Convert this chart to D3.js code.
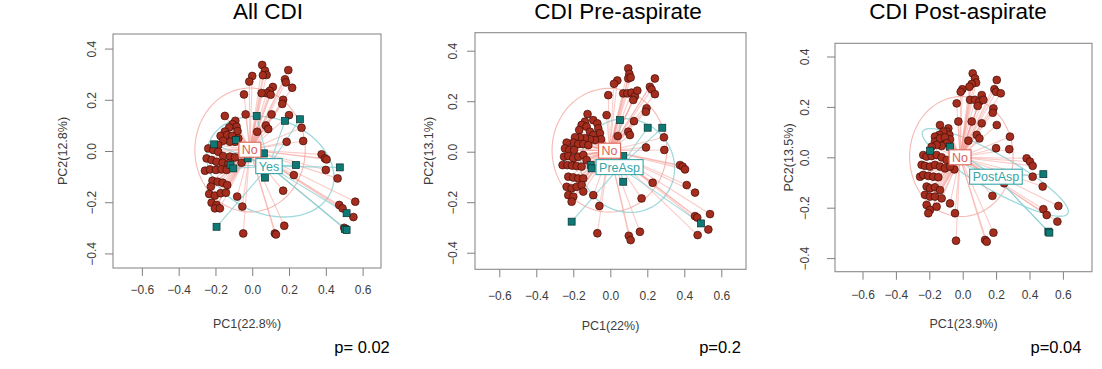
<!DOCTYPE html>
<html>
<head>
<meta charset="utf-8">
<script src="https://d3js.org/d3.v7.min.js"></script>
<style>
  body { margin: 0; background: #fff; }
  svg { display: block; font-family: "Liberation Sans", Arial, sans-serif; }
</style>
</head>
<body>
<svg width="1102" height="369"></svg>
<script>
// ---- data ----
const titles = ["All CDI", "CDI Pre-aspirate", "CDI Post-aspirate"];
const pValues = ["p= 0.02", "p=0.2", "p=0.04"];
const xTitles = ["PC1(22.8%)", "PC1(22%)", "PC1(23.9%)"];
const yTitles = ["PC2(12.8%)", "PC2(13.1%)", "PC2(13.5%)"];
const groupNames = [["No", "Yes"], ["No", "PreAsp"], ["No", "PostAsp"]];
const xTicks = [-0.6, -0.4, -0.2, 0, 0.2, 0.4, 0.6];
const yTicks = [-0.4, -0.2, 0, 0.2, 0.4];

// panel 1: All CDI
const noAll = [
  [0.054,0.336],[0.069,0.314],[0.078,0.297],[0.058,0.296],[0.196,0.316],[0.178,0.280],[0.183,0.268],[0.217,0.247],
  [0.000,0.293],[-0.016,0.271],[0.112,0.250],[0.095,0.235],[0.078,0.226],[0.051,0.226],[0.100,0.220],
  [0.168,0.200],[0.163,0.184],[-0.045,0.221],[-0.036,0.143],[0.105,0.143],[0.200,0.140],[0.074,0.100],[0.087,0.086],
  [0.027,0.075],[0.268,0.091],[0.187,0.036],[0.277,0.039],[0.377,-0.013],[0.395,-0.029],[0.404,-0.033],
  [0.400,-0.074],[0.464,-0.107],[0.226,-0.094],[0.168,-0.155],[0.473,-0.211],[0.491,-0.224],[0.560,-0.198],
  [0.550,-0.258],[0.500,-0.300],[0.174,-0.292],[0.123,-0.322],[0.129,-0.326],[-0.049,-0.322],[-0.054,-0.217],
  [-0.082,-0.178],[-0.058,-0.046],
  [-0.149,0.137],[-0.092,0.118],[-0.107,0.105],[-0.085,0.095],[-0.080,0.078],[-0.125,0.092],[-0.149,0.076],
  [-0.172,0.059],[-0.136,0.063],[-0.109,0.059],[-0.076,0.049],[-0.094,0.036],[-0.121,0.036],[-0.158,0.040],
  [-0.185,0.023],[-0.239,0.010],[-0.212,0.004],[-0.185,-0.003],[-0.158,-0.020],[-0.121,-0.022],[-0.094,-0.025],
  [-0.248,-0.029],[-0.221,-0.035],[-0.194,-0.042],[-0.161,-0.046],[-0.130,-0.048],[-0.257,-0.077],[-0.230,-0.072],
  [-0.197,-0.074],[-0.167,-0.072],[-0.139,-0.074],[-0.216,-0.116],[-0.188,-0.120],[-0.161,-0.124],[-0.136,-0.133],
  [-0.225,-0.139],[-0.234,-0.168],[-0.203,-0.174],[-0.172,-0.165],[-0.143,-0.163],[-0.221,-0.202],[-0.194,-0.211],
  [-0.203,-0.224],[-0.176,-0.224]
];
const yesAll = [
  [0.024,0.137],[0.178,0.118],[0.259,0.124],[-0.207,0.026],[0.063,-0.009],[-0.025,-0.029],[-0.118,-0.055],
  [-0.103,-0.068],[0.237,-0.055],[0.476,-0.064],[0.069,-0.104],[0.513,-0.243],[0.504,-0.305],[0.513,-0.309],
  [-0.194,-0.296],[-0.089,0.043]
];

// panel 2: CDI Pre-aspirate
const noPre = [
  [0.097,0.330],[0.103,0.308],[0.097,0.290],[0.110,0.294],[0.038,0.282],[0.020,0.269],[0.241,0.290],[0.214,0.257],
  [0.223,0.247],[0.241,0.228],[-0.011,0.224],[0.070,0.231],[0.092,0.231],[0.115,0.234],[0.133,0.220],[0.146,0.242],
  [0.124,0.205],[0.196,0.172],[0.192,0.158],[-0.020,0.145],[0.128,0.121],[0.097,0.079],[0.106,0.066],[0.040,0.062],
  [0.290,0.057],[0.193,0.017],[0.292,0.007],[0.377,-0.053],[0.391,-0.059],[0.404,-0.070],[0.413,-0.132],
  [0.458,-0.162],[0.229,-0.123],[0.169,-0.185],[0.539,-0.247],[0.458,-0.255],[0.470,-0.261],[0.530,-0.308],
  [0.472,-0.330],[0.160,-0.317],[0.100,-0.333],[0.110,-0.350],[-0.070,-0.323],[-0.059,-0.215],[-0.092,-0.172],
  [-0.123,0.149],[-0.092,0.125],[-0.070,0.112],[-0.065,0.092],[-0.056,0.073],[-0.050,0.049],[-0.137,0.119],
  [-0.155,0.106],[-0.168,0.086],[-0.128,0.099],[-0.110,0.079],[-0.092,0.066],[-0.083,0.046],[-0.110,0.049],
  [-0.137,0.053],[-0.164,0.057],[-0.191,0.057],[-0.200,0.036],[-0.173,0.030],[-0.146,0.030],[-0.119,0.026],
  [-0.236,0.036],[-0.245,0.013],[-0.222,0.007],[-0.196,0.007],[-0.250,-0.020],[-0.227,-0.017],[-0.200,-0.026],
  [-0.173,-0.020],[-0.146,-0.013],[-0.128,-0.033],[-0.258,-0.053],[-0.232,-0.053],[-0.207,-0.055],[-0.182,-0.057],
  [-0.155,-0.059],[-0.227,-0.099],[-0.200,-0.102],[-0.173,-0.106],[-0.146,-0.106],[-0.236,-0.139],[-0.209,-0.145],
  [-0.182,-0.139],[-0.155,-0.132],[-0.227,-0.172],[-0.200,-0.178],[-0.209,-0.198],[-0.146,-0.158]
];
const preAsp = [
  [0.052,0.125],[0.202,0.095],[0.281,0.095],[0.070,-0.017],[-0.106,-0.053],[-0.101,-0.066],[0.070,-0.119],
  [0.490,-0.284],[-0.209,-0.277]
];

// panel 3: CDI Post-aspirate
const noPost = [
  [0.060,0.333],[0.074,0.313],[0.080,0.296],[0.054,0.291],[0.040,0.280],[-0.002,0.270],[-0.012,0.260],[0.204,0.307],
  [0.190,0.270],[0.200,0.260],[0.228,0.254],[0.044,0.228],[0.074,0.228],[0.100,0.221],[0.114,0.247],[0.124,0.228],
  [0.090,0.204],[-0.036,0.214],[0.184,0.194],[0.180,0.177],[-0.026,0.142],[0.054,0.142],[0.114,0.135],[0.204,0.128],
  [0.084,0.089],[0.100,0.075],[0.034,0.066],[0.283,0.082],[0.200,0.036],[0.279,0.032],[0.383,-0.004],[0.403,-0.017],
  [0.419,-0.034],[0.419,-0.077],[0.479,-0.116],[0.248,-0.103],[0.178,-0.153],[0.573,-0.193],[0.483,-0.206],
  [0.503,-0.229],[0.567,-0.255],[0.184,-0.299],[0.134,-0.328],[0.144,-0.335],[-0.040,-0.331],[-0.046,-0.222],
  [-0.076,-0.183],[-0.050,-0.048],
  [-0.136,0.128],[-0.086,0.115],[-0.096,0.102],[-0.080,0.089],[-0.076,0.071],[-0.116,0.102],[-0.140,0.089],
  [-0.166,0.082],[-0.166,0.062],[-0.136,0.075],[-0.106,0.079],[-0.096,0.056],[-0.126,0.045],[-0.156,0.049],
  [-0.186,0.042],[-0.236,0.009],[-0.216,0.003],[-0.186,0.005],[-0.156,0.009],[-0.126,0.000],[-0.096,-0.011],
  [-0.246,-0.030],[-0.226,-0.034],[-0.196,-0.037],[-0.166,-0.030],[-0.136,-0.037],[-0.106,-0.044],[-0.076,-0.037],
  [-0.255,-0.077],[-0.236,-0.070],[-0.206,-0.074],[-0.176,-0.077],[-0.146,-0.079],[-0.216,-0.116],[-0.196,-0.123],
  [-0.166,-0.119],[-0.136,-0.130],[-0.226,-0.149],[-0.196,-0.156],[-0.166,-0.156],[-0.126,-0.163],[-0.216,-0.189],
  [-0.196,-0.209],[-0.206,-0.222],[-0.156,-0.196]
];
const postAsp = [[-0.196,0.026],[-0.076,0.042],[0.483,-0.067],[0.513,-0.295],[0.519,-0.299]];

// group centres (label positions) per panel: [No, case]
const noCentres = [[-0.013,0.005],[-0.004,0.004],[-0.016,0.000]];
const caseCentres = [[0.091,-0.059],[0.050,-0.061],[0.199,-0.077]];
// ellipses per panel: [cx, cy, semi-axis a, semi-axis b, angle in degrees]
const noEllipses = [[-0.012,0.004,0.300,0.242,0],[-0.005,0.006,0.310,0.245,0],[-0.008,0.003,0.310,0.238,0]];
const caseEllipses = [[0.098,-0.061,0.350,0.190,-10],[0.093,-0.055,0.255,0.185,-5],[0.195,-0.060,0.465,0.075,-20]];

const noSets = [noAll, noPre, noPost];
const caseSets = [yesAll, preAsp, postAsp];

// ---- layout ----
const layout = [
  {box: [113, 381, 34, 268], xDom: [-0.757, 0.700], yDom: [-0.457, 0.457], xLab: 22, xTitle: 55, yLab: 21, yTitle: 51, tx: 268, px: 362},
  {box: [475, 746, 32.7, 269.3], xDom: [-0.7314, 0.7335], yDom: [-0.4657, 0.4713], xLab: 26, xTitle: 56, yLab: 22, yTitle: 47, tx: 618, px: 720},
  {box: [835, 1092, 43.3, 271.7], xDom: [-0.7647, 0.7743], yDom: [-0.454, 0.4524], xLab: 23.3, xTitle: 51.5, yLab: 30, yTitle: 47, tx: 958, px: 1056}
];

const redFill = '#a52d1e', redEdge = '#3f0e08';
const tealFill = '#0f7a75', tealEdge = '#08302e';

const svg = d3.select('svg');

function ellipsePts(e) {
  const [cx, cy, a, b, deg] = e, th = deg * Math.PI / 180;
  return d3.range(0, 361, 4).map(function (t) {
    const r = t * Math.PI / 180;
    return [cx + a * Math.cos(r) * Math.cos(th) - b * Math.sin(r) * Math.sin(th),
            cy + a * Math.cos(r) * Math.sin(th) + b * Math.sin(r) * Math.cos(th)];
  });
}

layout.forEach(function (L, i) {
  const [x0, x1, y0, y1] = L.box;
  const x = d3.scaleLinear().domain(L.xDom).range([x0, x1]);
  const y = d3.scaleLinear().domain(L.yDom).range([y1, y0]);
  const g = svg.append('g');
  const line = d3.line().x(d => x(d[0])).y(d => y(d[1]));

  // title and p value
  svg.append('text').attr('x', L.tx).attr('y', 19).attr('text-anchor', 'middle')
    .style('font-size', '22.5px').style('fill', '#000').text(titles[i]);
  svg.append('text').attr('x', L.px).attr('y', 353).attr('text-anchor', 'middle')
    .style('font-size', '16.5px').style('fill', '#000').text(pValues[i]);

  // ellipses
  g.append('path').attr('d', line(ellipsePts(noEllipses[i])))
    .attr('fill', 'none').attr('stroke', '#f6b9b3').attr('stroke-width', 1.1);
  g.append('path').attr('d', line(ellipsePts(caseEllipses[i])))
    .attr('fill', 'none').attr('stroke', '#9fdadd').attr('stroke-width', 1.3);

  // spider lines
  const nc = noCentres[i], cc = caseCentres[i];
  g.selectAll('line.spNo').data(noSets[i]).enter().append('line')
    .attr('x1', x(nc[0])).attr('y1', y(nc[1]))
    .attr('x2', d => x(d[0])).attr('y2', d => y(d[1]))
    .attr('stroke', '#f49a92').attr('stroke-opacity', 0.5).attr('stroke-width', 1.1);
  g.selectAll('line.spCase').data(caseSets[i]).enter().append('line')
    .attr('x1', x(cc[0])).attr('y1', y(cc[1]))
    .attr('x2', d => x(d[0])).attr('y2', d => y(d[1]))
    .attr('stroke', '#86d0d3').attr('stroke-opacity', 0.8).attr('stroke-width', 1.1);

  // points
  g.selectAll('circle').data(noSets[i]).enter().append('circle')
    .attr('cx', d => x(d[0])).attr('cy', d => y(d[1])).attr('r', 3.9)
    .attr('fill', redFill).attr('stroke', redEdge).attr('stroke-width', 0.7);
  g.selectAll('rect.pt').data(caseSets[i]).enter().append('rect')
    .attr('x', d => x(d[0]) - 3.5).attr('y', d => y(d[1]) - 3.5)
    .attr('width', 7).attr('height', 7)
    .attr('fill', tealFill).attr('stroke', tealEdge).attr('stroke-width', 0.7);

  // group labels
  [[nc, groupNames[i][0], '#dc6356'], [cc, groupNames[i][1], '#35a5a6']].forEach(function (lab) {
    const lg = g.append('g');
    const t = lg.append('text').attr('x', x(lab[0][0])).attr('y', y(lab[0][1]))
      .attr('dy', '0.36em').attr('text-anchor', 'middle')
      .style('font-size', '12.5px').style('fill', lab[2]).text(lab[1]);
    const bb = t.node().getBBox();
    lg.insert('rect', 'text').attr('x', bb.x - 3).attr('y', y(lab[0][1]) - 7.5)
      .attr('width', bb.width + 6).attr('height', 15)
      .attr('fill', '#fff').attr('stroke', lab[2]).attr('stroke-width', 1.1);
  });

  // box
  g.append('rect').attr('x', x0).attr('y', y0).attr('width', x1 - x0).attr('height', y1 - y0)
    .attr('fill', 'none').attr('stroke', '#8a8a8a').attr('stroke-width', 1.1);

  // axes
  const fmt = d3.format('.1f');
  const xa = g.append('g').attr('transform', `translate(0,${y1})`)
    .call(d3.axisBottom(x).tickValues(xTicks).tickSize(8).tickFormat(fmt));
  const ya = g.append('g').attr('transform', `translate(${x0},0)`)
    .call(d3.axisLeft(y).tickValues(yTicks).tickSize(8).tickFormat(fmt));
  [xa, ya].forEach(function (a) {
    a.select('.domain').remove();
    a.selectAll('line').attr('stroke', '#808080');
    a.selectAll('text').style('font-size', '12px').style('fill', '#3c3c3c')
      .style('font-family', '"Liberation Sans", Arial, sans-serif');
  });
  xa.selectAll('text').attr('y', L.xLab).attr('dy', '0.36em');
  ya.selectAll('text').attr('x', 0).attr('y', 0).attr('dy', '0.36em').attr('text-anchor', 'middle')
    .attr('transform', `translate(${-L.yLab},0) rotate(-90)`);

  // axis titles
  svg.append('text').attr('x', (x0 + x1) / 2).attr('y', y1 + L.xTitle).attr('dy', '0.36em')
    .attr('text-anchor', 'middle').style('font-size', '12.5px').style('fill', '#3c3c3c').text(xTitles[i]);
  svg.append('text').attr('transform', `translate(${x0 - L.yTitle},${(y0 + y1) / 2}) rotate(-90)`)
    .attr('dy', '0.36em').attr('text-anchor', 'middle')
    .style('font-size', '12.5px').style('fill', '#3c3c3c').text(yTitles[i]);
});
</script>
</body>
</html>
